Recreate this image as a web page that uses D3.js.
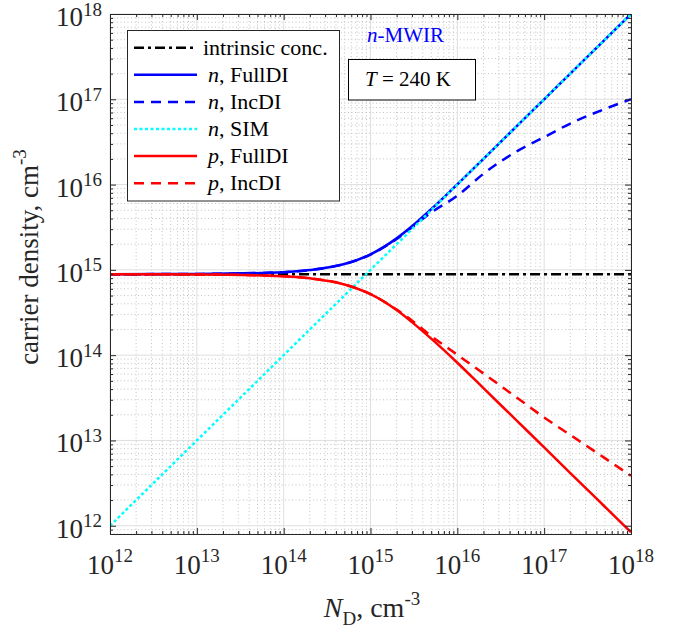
<!DOCTYPE html>
<html>
<head>
<meta charset="utf-8">
<script src="https://cdn.jsdelivr.net/npm/d3@7"></script>
<style>
  body { margin: 0; background: #fff; }
  text { font-family: "Liberation Serif", "Times New Roman", serif; }
</style>
</head>
<body>
<div id="chart"></div>
<script>
// donor concentration, cm^-3 (sample points)
const ND     = [1e12, 1e13, 1e14, 2e14, 5e14, 1e15, 2e15, 3e15, 5e15, 1e16, 2e16, 5e16, 1e17, 2e17, 5e17, 1e18]
const nIntr  = [8.9e14, 8.9e14, 8.9e14, 8.9e14, 8.9e14, 8.9e14, 8.9e14, 8.9e14, 8.9e14, 8.9e14, 8.9e14, 8.9e14, 8.9e14, 8.9e14, 8.9e14, 8.9e14]
const nFull  = [8.9e14, 8.95e14, 9.4e14, 9.95e14, 1.17e15, 1.52e15, 2.34e15, 3.24e15, 5.15e15, 1.008e16, 2.004e16, 5.0e16, 1e17, 2e17, 5e17, 1e18]
const nInc   = [8.9e14, 8.95e14, 9.4e14, 9.95e14, 1.17e15, 1.51e15, 2.3e15, 3.15e15, 4.7e15, 7.4e15, 1.34e16, 2.5e16, 3.6e16, 5.2e16, 7.7e16, 1.0e17]
const nSim   = [1e12, 1e13, 1e14, 2e14, 5e14, 1e15, 2e15, 3e15, 5e15, 1e16, 2e16, 5e16, 1e17, 2e17, 5e17, 1e18]
const pFull  = [8.9e14, 8.85e14, 8.43e14, 7.95e14, 6.75e14, 5.2e14, 3.38e14, 2.44e14, 1.56e14, 8.15e13, 4.1e13, 1.65e13, 8.3e12, 4.15e12, 1.67e12, 8.4e11]
const pInc   = [8.9e14, 8.85e14, 8.43e14, 7.95e14, 6.75e14, 5.2e14, 3.42e14, 2.55e14, 1.68e14, 1.01e14, 6.1e13, 3.1e13, 1.86e13, 1.16e13, 6.2e12, 3.85e12]

const xTickExp = [12, 13, 14, 15, 16, 17, 18]
const yTickExp = [12, 13, 14, 15, 16, 17, 18]

const series = [
    {label: ['', 'intrinsic conc.'], values: nIntr, color: '#000000', dash: '10,4,3,4'},
    {label: ['n', ', FullDI'], values: nFull, color: '#0000ff', dash: null},
    {label: ['n', ', IncDI'], values: nInc, color: '#0000ff', dash: '10,7'},
    {label: ['n', ', SIM'], values: nSim, color: '#00ffff', dash: '3,2.5'},
    {label: ['p', ', FullDI'], values: pFull, color: '#ff0000', dash: null},
    {label: ['p', ', IncDI'], values: pInc, color: '#ff0000', dash: '10,7'},
]

const config = {
    width: 673, height: 636,
    margin: {top: 14, right: 42, bottom: 102, left: 110},
    axisColor: '#262626',
    lineWidth: 2.5
}
const innerW = config.width - config.margin.left - config.margin.right
const innerH = config.height - config.margin.top - config.margin.bottom
const plotL = config.margin.left, plotT = config.margin.top
const plotR = plotL + innerW, plotB = plotT + innerH

const x = d3.scaleLog().domain([1e12, 1e18]).range([plotL, plotR])
const y = d3.scaleLog().domain([8e11, 1e18]).range([plotB, plotT])

const xMajor = xTickExp.map(e => Math.pow(10, e))
const yMajor = yTickExp.map(e => Math.pow(10, e))
const minorOf = (lo, hi) => {
    let out = []
    for (let e = lo; e < hi; e++)
        for (let k = 2; k <= 9; k++) out.push(k * Math.pow(10, e))
    return out
}
const xMinor = minorOf(12, 18)
const yMinor = [8e11, 9e11].concat(minorOf(12, 18))

const svg = d3.select('#chart').append('svg')
    .attr('width', config.width)
    .attr('height', config.height)

// grid: minor dotted first, then major solid
const grid = svg.append('g')
grid.selectAll('line.xminor').data(xMinor).join('line')
    .attr('x1', d => x(d)).attr('x2', d => x(d))
    .attr('y1', plotT).attr('y2', plotB)
    .attr('stroke', '#c4c4c4').attr('stroke-width', 1).attr('stroke-dasharray', '1,2.5')
grid.selectAll('line.yminor').data(yMinor).join('line')
    .attr('y1', d => y(d)).attr('y2', d => y(d))
    .attr('x1', plotL).attr('x2', plotR)
    .attr('stroke', '#c4c4c4').attr('stroke-width', 1).attr('stroke-dasharray', '1,2.5')
grid.selectAll('line.xmajor').data(xMajor).join('line')
    .attr('x1', d => x(d)).attr('x2', d => x(d))
    .attr('y1', plotT).attr('y2', plotB)
    .attr('stroke', '#dfdfdf').attr('stroke-width', 1)
grid.selectAll('line.ymajor').data(yMajor).join('line')
    .attr('y1', d => y(d)).attr('y2', d => y(d))
    .attr('x1', plotL).attr('x2', plotR)
    .attr('stroke', '#dfdfdf').attr('stroke-width', 1)

// curves
svg.append('clipPath').attr('id', 'plotclip')
    .append('rect').attr('x', plotL).attr('y', plotT).attr('width', innerW).attr('height', innerH)

const line = d3.line()
    .x(d => x(d[0]))
    .y(d => y(d[1]))
    .curve(d3.curveMonotoneX)

const curves = svg.append('g').attr('clip-path', 'url(#plotclip)')
series.forEach(s => {
    curves.append('path')
        .datum(ND.map((v, i) => [v, s.values[i]]))
        .attr('d', line)
        .attr('fill', 'none')
        .attr('stroke', s.color)
        .attr('stroke-width', config.lineWidth)
        .attr('stroke-dasharray', s.dash)
})

// axes with inward ticks on all four sides
const axes = [
    {gen: d3.axisBottom, scale: x, tr: `translate(0,${plotB})`},
    {gen: d3.axisTop, scale: x, tr: `translate(0,${plotT})`},
    {gen: d3.axisLeft, scale: y, tr: `translate(${plotL},0)`},
    {gen: d3.axisRight, scale: y, tr: `translate(${plotR},0)`},
]
axes.forEach(a => {
    const isX = a.scale === x
    svg.append('g').attr('transform', a.tr)
        .call(a.gen(a.scale).tickValues(isX ? xMinor : yMinor).tickSizeInner(-3).tickSizeOuter(0).tickFormat(''))
    svg.append('g').attr('transform', a.tr)
        .call(a.gen(a.scale).tickValues(isX ? xMajor : yMajor).tickSizeInner(-6).tickSizeOuter(0).tickFormat(''))
})
svg.selectAll('.domain, .tick line').attr('stroke', config.axisColor).attr('stroke-width', 1)

// tick labels 10^k
const xl = svg.append('g').attr('fill', config.axisColor)
xTickExp.forEach(e => {
    const t = xl.append('text')
        .attr('x', x(Math.pow(10, e))).attr('y', 574)
        .attr('text-anchor', 'middle').style('font-size', '27px')
    t.append('tspan').text('10')
    t.append('tspan').attr('dy', -12).style('font-size', '19px').text(e)
})
yTickExp.forEach(e => {
    const t = xl.append('text')
        .attr('x', 102).attr('y', y(Math.pow(10, e)) + 12)
        .attr('text-anchor', 'end').style('font-size', '27px')
    t.append('tspan').text('10')
    t.append('tspan').attr('dy', -10.5).style('font-size', '19px').text(e)
})

// axis labels
const xlab = svg.append('text')
    .attr('x', 372).attr('y', 617)
    .attr('text-anchor', 'middle').attr('fill', config.axisColor)
    .style('font-size', '28px')
xlab.append('tspan').style('font-style', 'italic').text('N')
xlab.append('tspan').attr('dy', 8).style('font-size', '19px').text('D')
xlab.append('tspan').attr('dy', -8).text(', cm')
xlab.append('tspan').attr('dy', -12).style('font-size', '19px').text('-3')

const ylab = svg.append('text')
    .attr('transform', 'translate(38,257) rotate(-90)')
    .attr('text-anchor', 'middle').attr('fill', config.axisColor)
    .style('font-size', '27px')
ylab.append('tspan').text('carrier density, cm')
ylab.append('tspan').attr('dy', -12).style('font-size', '19px').text('-3')

// legend
const lg = svg.append('g')
lg.append('rect')
    .attr('x', 127.5).attr('y', 30.5).attr('width', 212).attr('height', 170.5)
    .attr('fill', '#fff').attr('stroke', config.axisColor).attr('stroke-width', 1)
series.forEach((s, i) => {
    const cy = 47.7 + i * 27.1
    lg.append('line')
        .attr('x1', 134).attr('x2', 197).attr('y1', cy).attr('y2', cy)
        .attr('stroke', s.color).attr('stroke-width', config.lineWidth)
        .attr('stroke-dasharray', s.dash)
    const t = lg.append('text')
        .attr('x', s.label[0] ? 208 : 203).attr('y', cy + 7)
        .style('font-size', '22px').attr('fill', '#000')
    if (s.label[0]) t.append('tspan').style('font-style', 'italic').text(s.label[0])
    t.append('tspan').text(s.label[1])
})

// annotations
const mw = svg.append('text').attr('x', 367).attr('y', 42)
    .attr('fill', '#0000ff').style('font-size', '21px')
mw.append('tspan').style('font-style', 'italic').text('n')
mw.append('tspan').text('-MWIR')

svg.append('rect')
    .attr('x', 348.5).attr('y', 59.5).attr('width', 127).attr('height', 40.5)
    .attr('fill', '#fff').attr('stroke', '#000').attr('stroke-width', 1)
const tb = svg.append('text').attr('x', 365).attr('y', 86)
    .attr('fill', '#000').style('font-size', '21px')
tb.append('tspan').style('font-style', 'italic').text('T')
tb.append('tspan').text(' = 240 K')
</script>
</body>
</html>
